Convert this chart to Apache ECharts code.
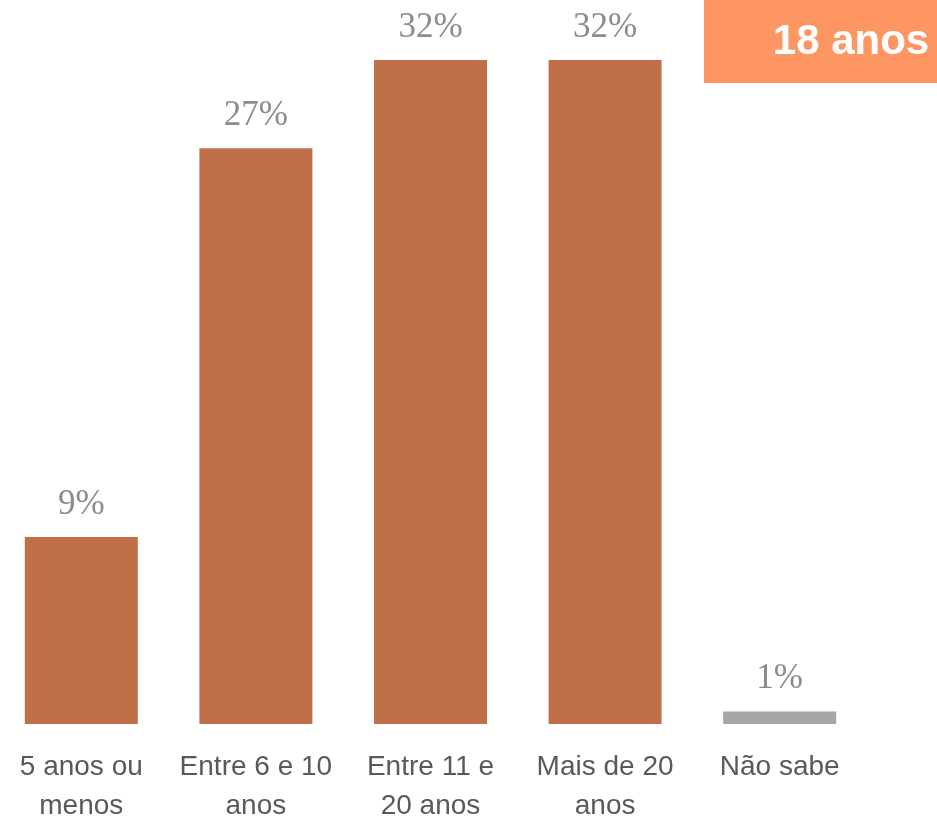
<!DOCTYPE html>
<html>
<head>
<meta charset="utf-8">
<script src="https://cdn.jsdelivr.net/npm/echarts@6/dist/echarts.min.js"></script>
<style>
  html, body { margin: 0; padding: 0; background: #fff; }
  #chart { width: 937px; height: 819px; }
</style>
</head>
<body>
<div id="chart"></div>
<script>
// categorias e valores (%)
const categories = ['5 anos ou\nmenos', 'Entre 6 e 10\nanos', 'Entre 11 e\n20 anos', 'Mais de 20\nanos', 'Não sabe'];
const values = [8.9, 27.4, 31.6, 31.6, 0.6];
const barColors = ['#BF7049', '#BF7049', '#BF7049', '#BF7049', '#A6A6A6'];
const boxText = '18 anos';

const mychart = echarts.init(document.getElementById('chart'));

const option = {
  animation: false,
  grid: {
    left: -6,
    right: 70,
    top: 60,
    bottom: 95,
    containLabel: false,
    outerBoundsMode: 'none'
  },
  xAxis: {
    type: 'category',
    data: categories,
    axisLine: { show: false },
    axisTick: { show: false },
    axisLabel: {
      color: '#595959',
      fontFamily: 'Liberation Sans',
      fontSize: 28,
      lineHeight: 39,
      margin: 24,
      interval: 0
    }
  },
  yAxis: {
    type: 'value',
    min: 0,
    max: 'dataMax',
    show: false,
    splitLine: { show: false }
  },
  series: [
    {
      type: 'bar',
      barWidth: 113,
      data: values.map((v, i) => ({ value: v, itemStyle: { color: barColors[i] } })),
      label: {
        show: true,
        position: 'top',
        distance: 15,
        color: '#8C8C8C',
        fontFamily: 'Liberation Serif',
        fontSize: 35,
        formatter: p => Math.round(p.value) + '%'
      }
    }
  ],
  graphic: [
    {
      type: 'rect',
      shape: { x: 704, y: 0, width: 240, height: 83 },
      style: { fill: '#FE9664' }
    },
    {
      type: 'text',
      x: 851,
      y: 42,
      style: {
        text: boxText,
        fill: '#fff',
        font: 'bold 42px "Liberation Sans"',
        align: 'center',
        verticalAlign: 'middle'
      }
    }
  ]
};

mychart.setOption(option);
window.addEventListener('resize', function () {
  mychart.resize();
});
</script>
</body>
</html>
